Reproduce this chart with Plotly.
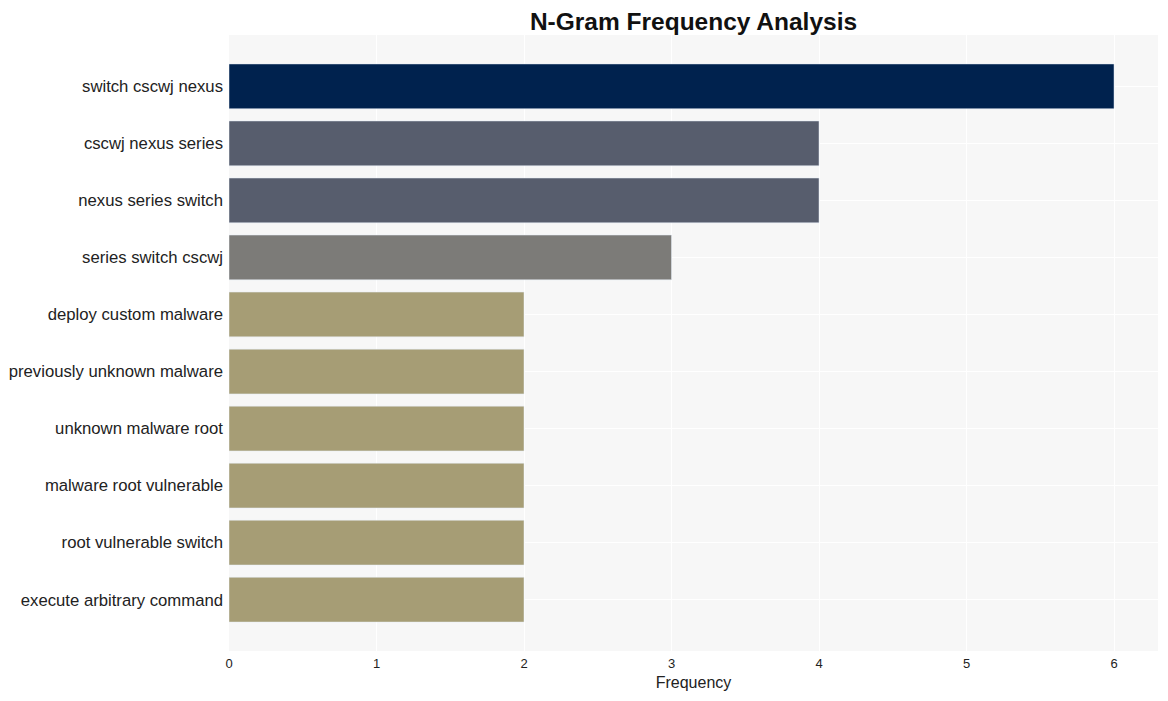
import plotly.graph_objects as go

ngrams = [
    "switch cscwj nexus",
    "cscwj nexus series",
    "nexus series switch",
    "series switch cscwj",
    "deploy custom malware",
    "previously unknown malware",
    "unknown malware root",
    "malware root vulnerable",
    "root vulnerable switch",
    "execute arbitrary command",
]
frequency = [6, 4, 4, 3, 2, 2, 2, 2, 2, 2]
bar_colors = ["#00224e", "#575d6d", "#575d6d", "#7c7b78",
              "#a69d75", "#a69d75", "#a69d75", "#a69d75", "#a69d75", "#a69d75"]
x_ticks = [0, 1, 2, 3, 4, 5, 6]

fig = go.Figure(go.Bar(
    x=frequency,
    y=ngrams,
    orientation="h",
    marker=dict(color=bar_colors),
))

fig.update_layout(
    width=1168, height=701,
    margin=dict(l=221, r=18, t=27, b=58, autoexpand=False),
    paper_bgcolor="white",
    plot_bgcolor="#f7f7f7",
    font=dict(family="Arial, Liberation Sans, sans-serif", color="#222"),
    title=dict(text="<b>N-Gram Frequency Analysis</b>", x=0.5, xref="paper",
               y=1 - 13 / 701, yref="container", yanchor="middle",
               font=dict(size=24.5, color="#111")),
    bargap=0.215,
    showlegend=False,
)
fig.update_xaxes(
    title=dict(text="Frequency", font=dict(size=16), standoff=6),
    range=[0, 6.298],
    tickvals=x_ticks,
    tickfont=dict(size=13),
    ticklabelstandoff=3,
    gridcolor="white", gridwidth=1,
    zeroline=False,
    automargin=False,
)
fig.update_yaxes(
    range=[9.9, -0.9],
    tickfont=dict(size=16.7),
    gridcolor="white", gridwidth=1,
    ticks="", ticklabelstandoff=5,
    automargin=False,
)

fig.write_html("out.html")
